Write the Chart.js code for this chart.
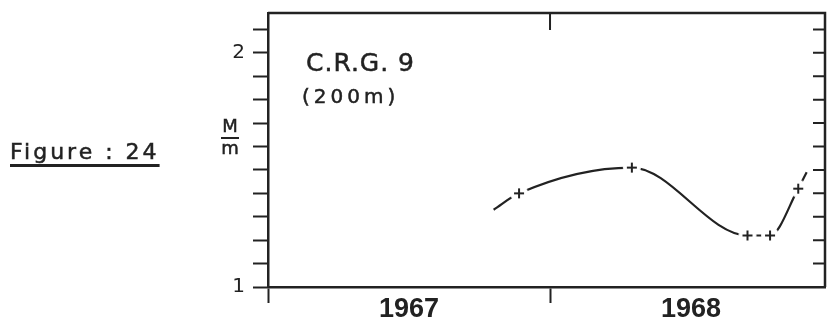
<!DOCTYPE html>
<html>
<head>
<meta charset="utf-8">
<script src="https://cdn.jsdelivr.net/npm/chart.js@4.4.1/dist/chart.umd.min.js"></script>
<style>
  body { margin: 0; background: #fff; }
  #wrap { position: relative; width: 827px; height: 322px; font-family: "DejaVu Sans", sans-serif; color: #222; }
  canvas { position: absolute; left: 0; top: 0; }
  .txt { position: absolute; white-space: nowrap; line-height: 1; -webkit-text-stroke: 0.5px #222; }
  #fig { left: 10px; top: 141px; font-size: 22px; letter-spacing: 3px;
         text-decoration: underline; text-decoration-thickness: 2.5px; text-underline-offset: 5px; }
  #station { left: 306px; top: 50px; font-size: 25px; letter-spacing: 1px; }
  #depth { left: 302px; top: 86px; font-size: 20px; letter-spacing: 4px; }
  #unit { left: 219px; top: 117px; font-size: 18px; text-align: center; width: 22px; }
  #unit .bar { border-top: 2px solid #222; margin: 2px 2px 0; }
</style>
</head>
<body>
<div id="wrap">
  <canvas id="crg9" width="827" height="322"></canvas>
  <div class="txt" id="fig">Figure : 24</div>
  <div class="txt" id="station">C.R.G. 9</div>
  <div class="txt" id="depth">(200m)</div>
  <div class="txt" id="unit"><div>M</div><div class="bar"></div><div>m</div></div>
</div>
<script>
// smoothed M/m curve (ends carry no sample mark)
const curveX = [1967.80, 1967.89, 1968.29, 1968.70, 1968.78, 1968.88, 1968.91];
const curveY = [1.33, 1.40, 1.51, 1.22, 1.22, 1.42, 1.49];
// sampled values, drawn as crosses
const sampleX = [1967.89, 1968.29, 1968.70, 1968.78, 1968.88];
const sampleY = [1.40, 1.51, 1.22, 1.22, 1.42];
// axes
const yearTicks = [1967, 1968];
const yearLabels = ['1967', '1968'];
const ratioTicks = [1.0, 1.1, 1.2, 1.3, 1.4, 1.5, 1.6, 1.7, 1.8, 1.9, 2.0, 2.1];
const ratioLabels = ['1', '', '', '', '', '', '', '', '', '', '2', ''];

const ink = '#222';

// cross mark on a white disc, so the curve breaks around each sample
const crossMark = document.createElement('canvas');
crossMark.width = 20; crossMark.height = 20;
(function () {
  const c = crossMark.getContext('2d');
  c.fillStyle = '#fff';
  c.beginPath(); c.arc(10, 10, 9, 0, Math.PI * 2); c.fill();
  c.strokeStyle = ink; c.lineWidth = 2;
  c.beginPath();
  c.moveTo(5, 10); c.lineTo(15, 10);
  c.moveTo(10, 5); c.lineTo(10, 15);
  c.stroke();
})();

// top and right edges of the frame, with inward ticks
const frameTicks = {
  id: 'frameTicks',
  afterDraw(chart) {
    const { ctx, chartArea: a, scales } = chart;
    ctx.save();
    ctx.strokeStyle = ink;
    ctx.lineWidth = 2.5;
    ctx.beginPath();
    ctx.moveTo(a.left, a.top); ctx.lineTo(a.right, a.top); ctx.lineTo(a.right, a.bottom);
    ctx.stroke();
    ctx.lineWidth = 2;
    ctx.beginPath();
    ratioTicks.slice(1).forEach(v => {
      const y = scales.y.getPixelForValue(v);
      ctx.moveTo(a.right, y); ctx.lineTo(a.right - 12, y);
    });
    yearTicks.slice(1).forEach(v => {
      const x = scales.x.getPixelForValue(v);
      ctx.moveTo(x, a.top); ctx.lineTo(x, a.top + 17);
    });
    ctx.stroke();
    ctx.restore();
  }
};

new Chart(document.getElementById('crg9'), {
  type: 'line',
  data: {
    datasets: [{
      label: 'samples',
      data: sampleX.map((x, i) => ({ x: x, y: sampleY[i] })),
      showLine: false,
      pointStyle: crossMark,
      pointRadius: 10
    }, {
      label: 'M/m',
      data: curveX.map((x, i) => ({ x: x, y: curveY[i] })),
      borderColor: ink,
      borderWidth: 2.2,
      cubicInterpolationMode: 'monotone',
      pointRadius: 0
    }]
  },
  options: {
    responsive: false,
    animation: false,
    devicePixelRatio: 1,
    layout: { autoPadding: false, padding: { top: 13, right: 2, left: 0, bottom: 0 } },
    plugins: { legend: { display: false }, tooltip: { enabled: false } },
    scales: {
      x: {
        type: 'linear',
        min: 1967,
        max: 1968.975,
        afterFit: s => { s.height = 35; s.paddingLeft = 0; s.paddingRight = 0; },
        afterBuildTicks: s => {
          const t = [];
          yearTicks.forEach(v => { t.push({ value: v }); t.push({ value: v + 0.5 }); });
          s.ticks = t;
        },
        grid: {
          drawOnChartArea: false,
          tickLength: 16,
          tickWidth: 2,
          tickColor: c => (c.tick && c.tick.value % 1 === 0) ? ink : 'rgba(0,0,0,0)'
        },
        border: { display: true, color: ink, width: 2.5 },
        ticks: {
          autoSkip: false,
          maxRotation: 0,
          padding: -10,
          color: ink,
          font: { family: 'Liberation Sans', size: 27, weight: 'bold' },
          callback: v => {
            const i = yearTicks.indexOf(v - 0.5);
            return i >= 0 ? yearLabels[i] : '';
          }
        }
      },
      y: {
        type: 'linear',
        min: 1,
        max: 2.17,
        afterFit: s => { s.width = 268; s.paddingTop = 0; s.paddingBottom = 0; },
        afterBuildTicks: s => { s.ticks = ratioTicks.map(v => ({ value: v })); },
        grid: {
          drawOnChartArea: false,
          tickLength: 15,
          tickWidth: 2,
          tickColor: ink
        },
        border: { display: true, color: ink, width: 2.5 },
        ticks: {
          autoSkip: false,
          padding: 8,
          color: ink,
          font: { family: 'DejaVu Sans', size: 20 },
          callback: (v, i) => ratioLabels[i]
        }
      }
    }
  },
  plugins: [frameTicks]
});
</script>
</body>
</html>
